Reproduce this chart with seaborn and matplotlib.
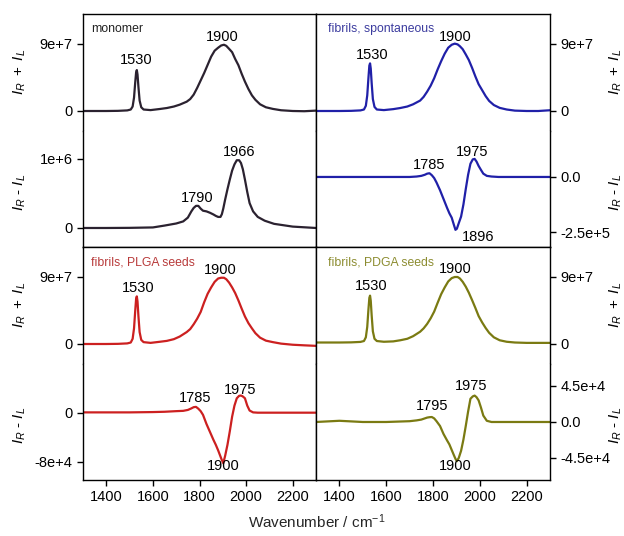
import numpy as np
import pandas as pd
import matplotlib
matplotlib.use("Agg")
import matplotlib.pyplot as plt
import seaborn as sns

sns.set_theme(style="ticks")
plt.rcParams["font.family"] = ["Liberation Sans", "DejaVu Sans"]
plt.rcParams["mathtext.fontset"] = "custom"
plt.rcParams["mathtext.rm"] = "Liberation Sans"
plt.rcParams["mathtext.it"] = "Liberation Sans:italic"

# wavenumber grids (cm-1)
wn_sum = [1300, 1350, 1400, 1450, 1490, 1505, 1513, 1519, 1524, 1528, 1531, 1534,
          1538, 1543, 1550, 1560, 1590, 1630, 1660, 1690, 1715, 1745, 1760, 1775,
          1790, 1805, 1820, 1835, 1850, 1865, 1880, 1893, 1905, 1915, 1927, 1940,
          1953, 1967, 1981, 1995, 2010, 2025, 2040, 2060, 2085, 2115, 2150, 2200,
          2250, 2300]
wn_diff = [1300, 1400, 1500, 1600, 1650, 1700, 1730, 1750, 1765, 1775, 1785, 1795,
           1805, 1815, 1830, 1845, 1860, 1870, 1880, 1890, 1896, 1902, 1910, 1920,
           1930, 1940, 1950, 1960, 1970, 1978, 1986, 1995, 2005, 2015, 2030, 2050,
           2080, 2120, 2200, 2300]

# I_R + I_L (units of 1e7)
mono_sum = [0, 0, 0, 0.02, 0.08, 0.2, 0.6, 1.8, 3.8, 5.2, 5.5, 4.9, 3.2, 1.4, 0.5,
            0.2, 0.12, 0.27, 0.4, 0.6, 0.85, 1.25, 1.6, 2.2, 3.1, 4.1, 5.1, 6.2, 7.3,
            8.1, 8.5, 8.8, 8.9, 8.75, 8.35, 7.9, 7.0, 6.15, 5.0, 3.95, 2.95, 2.1, 1.5,
            0.9, 0.5, 0.28, 0.1, 0, -0.03, 0.05]
spon_sum = [0, 0, 0, 0.02, 0.08, 0.2, 0.7, 2.1, 4.4, 6.1, 6.4, 5.7, 3.7, 1.6, 0.55,
            0.2, 0.12, 0.25, 0.4, 0.6, 0.9, 1.4, 1.9, 2.6, 3.4, 4.4, 5.6, 6.7, 7.7,
            8.5, 8.9, 9.05, 8.95, 8.7, 8.3, 7.6, 6.85, 5.8, 4.65, 3.6, 2.8, 2.0, 1.35,
            0.8, 0.42, 0.2, 0.05, 0, 0, 0.1]
plga_sum = [0, 0, 0, 0.02, 0.08, 0.2, 0.7, 2.1, 4.4, 6.1, 6.4, 5.7, 3.7, 1.6, 0.55,
            0.25, 0.15, 0.3, 0.42, 0.65, 1.0, 1.6, 2.0, 2.65, 3.4, 4.3, 5.6, 6.75, 7.6,
            8.35, 8.8, 8.9, 8.9, 8.7, 8.25, 7.6, 6.85, 5.85, 4.75, 3.7, 2.8, 2.1, 1.45,
            0.85, 0.45, 0.25, 0.05, -0.1, -0.18, -0.25]
pdga_sum = [0.2, 0.2, 0.2, 0.22, 0.28, 0.4, 0.9, 2.3, 4.6, 6.2, 6.5, 5.8, 3.8, 1.7,
            0.7, 0.4, 0.3, 0.35, 0.5, 0.7, 1.05, 1.65, 2.1, 2.7, 3.45, 4.35, 5.55, 6.7,
            7.6, 8.4, 8.85, 9.0, 9.0, 8.8, 8.35, 7.7, 6.9, 5.9, 4.85, 3.75, 2.9, 2.15,
            1.5, 0.9, 0.5, 0.3, 0.2, 0.15, 0.15, 0.15]

# I_R - I_L
mono_diff = [0, 0, 0.02, 0.08, 0.35, 0.65, 0.95, 1.5, 2.4, 2.9, 3.2, 3.2, 2.8, 2.5, 2.4,
             2.2, 1.95, 1.75, 1.6, 1.6, 2.0, 2.8, 4.1, 5.6, 7.0, 8.3, 9.2, 9.8, 9.8,
             9.4, 8.5, 7.0, 5.2, 3.6, 2.4, 1.6, 1.05, 0.6, 0.2, 0]           # 1e5
spon_diff = [0, 0, 0, 0, 0, 0, 0.02, 0.05, 0.1, 0.15, 0.17, 0.08, -0.05, -0.25, -0.6,
             -1.0, -1.4, -1.65, -1.85, -2.2, -2.4, -2.35, -2.1, -1.8, -1.25, -0.55,
             0.1, 0.6, 0.8, 0.82, 0.7, 0.5, 0.32, 0.15, 0.05, 0.02, 0, 0, 0, 0]  # 1e5
plga_diff = [0.1, 0.1, 0.1, 0.15, 0.2, 0.3, 0.35, 0.5, 0.75, 0.95, 1.0, 0.7, 0.3, -0.3,
             -1.8, -3.1, -4.4, -5.2, -6.1, -7.1, -7.7, -8.2, -7.0, -5.2, -3.0, -0.6,
             1.2, 2.4, 2.8, 2.85, 2.7, 2.4, 1.2, 0.4, 0.1, 0.05, 0.05, 0.05, 0.05,
             0.05]                                                            # 1e4
pdga_diff = [0, 0.15, 0, 0, 0.05, 0.1, 0.2, 0.3, 0.45, 0.55, 0.6, 0.62, 0.45, 0.1,
             -0.5, -1.5, -2.3, -2.8, -3.5, -4.2, -4.6, -4.9, -4.5, -3.6, -2.2, -0.5,
             1.3, 2.9, 3.2, 3.3, 3.1, 2.7, 1.8, 0.8, 0.15, 0, 0, 0, 0, 0]      # 1e4

W, H = 624, 536
fig = plt.figure(figsize=(W / 100, H / 100), dpi=100)


def px_axes(x0, x1, y0, y1):
    return fig.add_axes([x0 / W, 1 - y1 / H, (x1 - x0) / W, (y1 - y0) / H])


cols = {"L": (83, 316), "R": (316, 550)}
rows = {"T": (14, 130.5, 247), "B": (247, 363.5, 480)}

panels = [
    # key, col, row, title, title colour, line colour, sum, diff, diff scale,
    # diff ylim, diff ticks, diff ticklabels
    ("mono", "L", "T", "monomer", "#222222", "#2b2230", mono_sum, mono_diff, 1e5,
     (-2.75e5, 1.41e6), [0, 1e6], ["0", "1e+6"]),
    ("spon", "R", "T", "fibrils, spontaneous", "#3b3b9e", "#2020a8", spon_sum, spon_diff, 1e5,
     (-3.18e5, 2.11e5), [-2.5e5, 0], ["-2.5e+5", "0.0"]),
    ("plga", "L", "B", "fibrils, PLGA seeds", "#b83a3a", "#cc2020", plga_sum, plga_diff, 1e4,
     (-1.094e5, 8.08e4), [-8e4, 0], ["-8e+4", "0"]),
    ("pdga", "R", "B", "fibrils, PDGA seeds", "#8c8c30", "#7a7a12", pdga_sum, pdga_diff, 1e4,
     (-7.25e4, 7.31e4), [-4.5e4, 0, 4.5e4], ["-4.5e+4", "0.0", "4.5e+4"]),
]

# peak labels: (panel, upper/lower, text, x, y baseline)
peak_labels = [
    ("mono", "s", "1530", 1530, 6.3e7), ("mono", "s", "1900", 1897, 9.4e7),
    ("mono", "d", "1966", 1970, 1.04e6), ("mono", "d", "1790", 1789, 3.77e5),
    ("spon", "s", "1530", 1539, 6.99e7), ("spon", "s", "1900", 1894, 9.4e7),
    ("spon", "d", "1785", 1783, 3.6e4), ("spon", "d", "1975", 1966, 9.5e4),
    ("spon", "d", "1896", 1992, -2.91e5),
    ("plga", "s", "1530", 1536, 6.99e7), ("plga", "s", "1900", 1888, 9.4e7),
    ("plga", "d", "1785", 1783, 1.8e4), ("plga", "d", "1975", 1974, 3.1e4),
    ("plga", "d", "1900", 1901, -9.31e4),
    ("pdga", "s", "1530", 1535, 7.25e7), ("pdga", "s", "1900", 1894, 9.5e7),
    ("pdga", "d", "1795", 1796, 1.5e4), ("pdga", "d", "1975", 1964, 4.0e4),
    ("pdga", "d", "1900", 1894, -6.0e4),
]

xticks = [1400, 1600, 1800, 2000, 2200]
axes = {}
for (key, col, row, title, tcol, lcol, s_vals, d_vals, dscale,
     dlim, dticks, dlabels) in panels:
    x0, x1 = cols[col]
    y0, ym, y1 = rows[row]
    ax_s = px_axes(x0, x1, y0, ym)
    ax_d = px_axes(x0, x1, ym, y1)
    axes[(key, "s")] = ax_s
    axes[(key, "d")] = ax_d

    sns.lineplot(x=wn_sum, y=np.array(s_vals) * 1e7, ax=ax_s, color=lcol, linewidth=1.6)
    sns.lineplot(x=wn_diff, y=np.array(d_vals) * dscale, ax=ax_d, color=lcol, linewidth=1.6)

    ax_s.set_ylim(-2.62e7, 1.303e8)
    ax_s.set_yticks([0, 9e7], ["0", "9e+7"])
    ax_d.set_ylim(*dlim)
    ax_d.set_yticks(dticks, dlabels)

    for ax in (ax_s, ax_d):
        ax.set_xlim(1300, 2300)
        ax.set_xticks(xticks, [str(t) for t in xticks])
        ax.set_xlabel("")
        for sp in ax.spines.values():
            sp.set_visible(True)
            sp.set_linewidth(1.0)
            sp.set_color("black")
        ax.tick_params(axis="y", direction="out", length=4, width=1, pad=3.5,
                       labelsize=10.5, colors="black")
        ax.tick_params(axis="x", direction="out", length=4, width=1, pad=3,
                       labelsize=10.5, colors="black")
        if col == "R":
            ax.yaxis.tick_right()
            ax.yaxis.set_label_position("right")
        if not (row == "B" and ax is ax_d):
            ax.tick_params(axis="x", bottom=False, labelbottom=False)
    ax_s.spines["bottom"].set_visible(False)
    ax_d.spines["top"].set_visible(False)

    ax_s.set_ylabel(r"$I_R\ +\ I_L$", fontsize=11, color="black")
    ax_d.set_ylabel(r"$I_R$ - $I_L$", fontsize=11, color="black")
    lx = -0.236 if col == "L" else 1.245
    ax_s.yaxis.set_label_coords(lx, 0.5)
    ax_d.yaxis.set_label_coords(lx, 0.47)

    ax_s.text(0.034 if col == "L" else 0.05, 0.87, title, transform=ax_s.transAxes,
              ha="left", va="center", fontsize=8.8, color=tcol)

for key, part, txt, x, y in peak_labels:
    axes[(key, part)].text(x, y, txt, ha="center", va="baseline", fontsize=10.5,
                           color="black")

fig.text(316.5 / W, 1 - 522 / H, r"Wavenumber / cm$^{-1}$", ha="center", va="center",
         fontsize=11)

fig.savefig("out.png", dpi=100, facecolor="white")
